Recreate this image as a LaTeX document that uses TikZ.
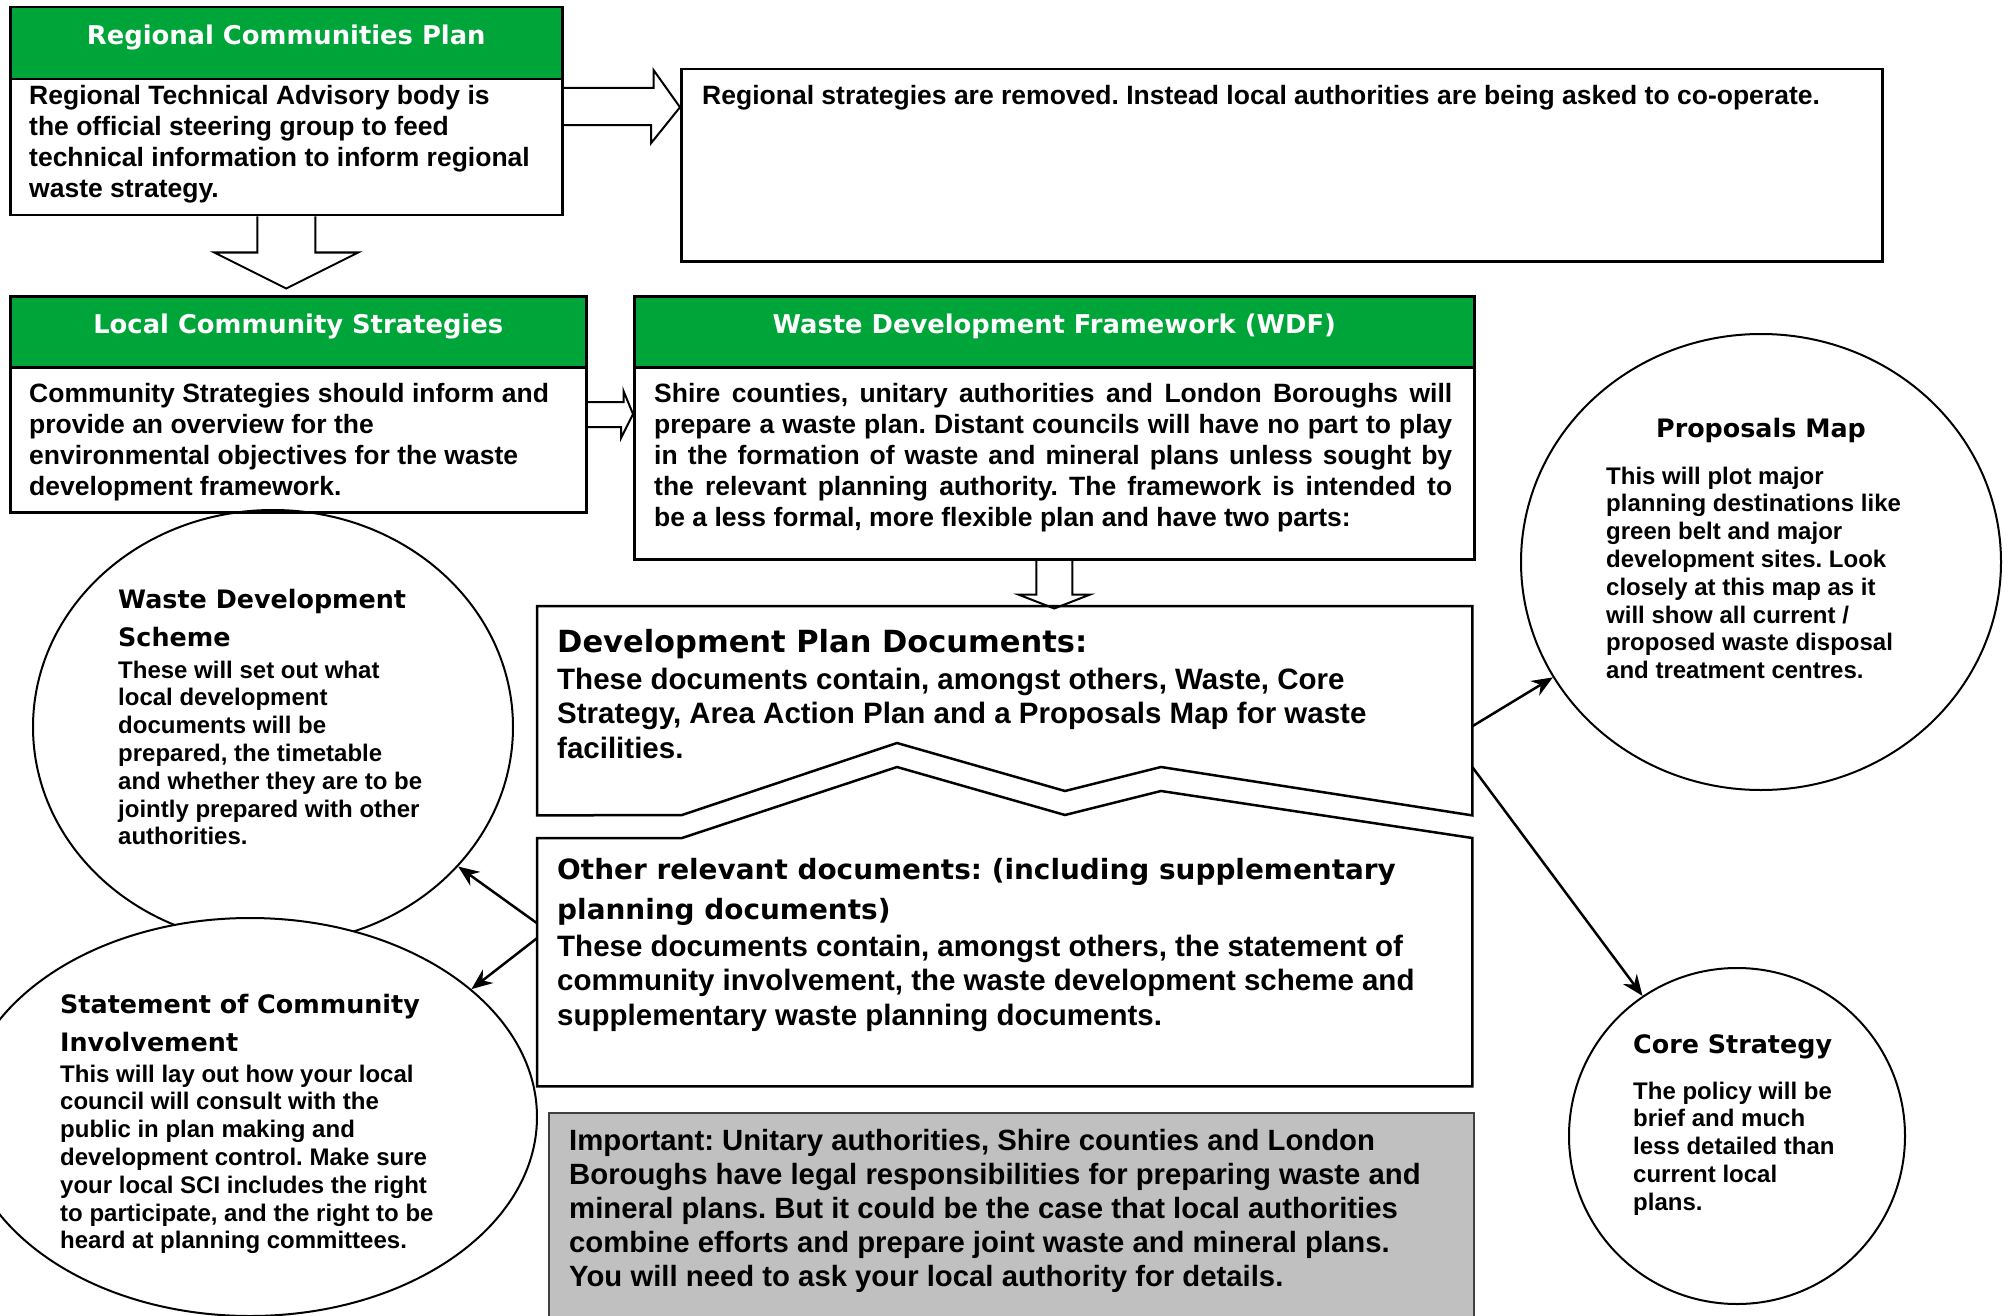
\documentclass[tikz,border=0pt]{standalone}
\usepackage{fontspec}
\setmainfont{Liberation Sans}
\newfontfamily\heavyfont{DejaVu Sans}
\usetikzlibrary{calc,shapes.geometric,arrows.meta}
\frenchspacing

\definecolor{headgreen}{HTML}{00A539}
\definecolor{notegray}{HTML}{C0C0C0}

\tikzset{
    framebox/.style={draw=black, line width=2.5pt, inner sep=0pt, anchor=north west},
    greenbar/.style={framebox, fill=headgreen},
    bartitle/.style={text=white, inner sep=0pt, font=\heavyfont\bfseries\fontsize{25.8}{30}\selectfont},
    boxtext/.style={anchor=base west, inner sep=0pt, align=left, font=\bfseries\fontsize{26.5}{31}\selectfont},
    bigtext/.style={anchor=base west, inner sep=0pt, align=left, font=\bfseries\fontsize{29.5}{34.5}\selectfont},
    bubble/.style={ellipse, draw=black, line width=2pt, fill=white, inner sep=0pt},
    bubbletitle/.style={anchor=base west, inner sep=0pt, align=left, font=\heavyfont\bfseries\fontsize{25.4}{38}\selectfont},
    bubbletext/.style={anchor=base west, inner sep=0pt, align=left, font=\bfseries\fontsize{24}{27.8}\selectfont},
    fatarrow/.style={draw=black, line width=2pt, line join=miter},
    pointer/.style={-{Stealth[length=21pt,width=17pt]}, line width=2.5pt},
}

\begin{document}
\begin{tikzpicture}[x=1pt, y=-1pt]
    \useasboundingbox (0,0) rectangle (2008,1316);

    % bubbles (text nodes sit on the baseline of their last line)
    \node[bubble, minimum width=480pt, minimum height=434pt] (wds) at (273,727) {};
    \node[bubble, minimum width=574pt, minimum height=398pt] (sci) at (250,1117) {};
    \node[bubble, minimum width=480pt, minimum height=456pt] (pm) at (1761,562) {};
    \node[bubble, minimum width=336pt, minimum height=336pt] (cs) at (1737,1136) {};

    \node[bubbletitle] (wdstitle) at ($(wds.center)+(-155,-80.5)$) {Waste Development\\Scheme};
    \node[bubbletext] (wdstext) at ($(wds.center)+(-155,117.8)$) {These will set out what\\local development\\documents will be\\prepared, the timetable\\and whether they are to be\\jointly prepared with other\\authorities.};

    \node[bubbletitle] (scititle) at ($(sci.center)+(-190,-65.5)$) {Statement of Community\\Involvement};
    \node[bubbletext] (scitext) at ($(sci.center)+(-190,131.8)$) {This will lay out how your local\\council will consult with the\\public in plan making and\\development control. Make sure\\your local SCI includes the right\\to participate, and the right to be\\heard at planning committees.};

    \node[bubbletitle, anchor=base] (pmtitle) at ($(pm.center)+(0,-124.5)$) {Proposals Map};
    \node[bubbletext] (pmtext) at ($(pm.center)+(-155,116.6)$) {This will plot major\\planning destinations like\\green belt and major\\development sites. Look\\closely at this map as it\\will show all current /\\proposed waste disposal\\and treatment centres.};

    \node[bubbletitle] (cstitle) at ($(cs.center)+(-104,-82.5)$) {Core Strategy};
    \node[bubbletext] (cstext) at ($(cs.center)+(-104,74.2)$) {The policy will be\\brief and much\\less detailed than\\current local\\plans.};

    % top row
    \node[greenbar, minimum width=552pt, minimum height=72pt] (rcphead) at (9,6) {};
    \node[bartitle] (rcptitle) at ($(rcphead.center)+(0,-6)$) {Regional Communities Plan};
    \node[framebox, minimum width=552pt, minimum height=136pt] (rcp) at (9,78) {};
    \node[boxtext] (rcptext) at ($(rcp.north west)+(20,120)$) {Regional Technical Advisory body is\\the official steering group to feed\\technical information to inform regional\\waste strategy.};

    \node[framebox, minimum width=1201pt, minimum height=192pt] (rs) at (680,68) {};
    \node[boxtext] (rstext) at ($(rs.north west)+(22,37)$) {Regional strategies are removed. Instead local authorities are being asked to co-operate.};

    % second row
    \node[greenbar, minimum width=576pt, minimum height=71pt] (lcshead) at (9,295) {};
    \node[bartitle] (lcstitle) at ($(lcshead.center)+(0,-5.5)$) {Local Community Strategies};
    \node[framebox, minimum width=576pt, minimum height=145pt] (lcs) at (9,366) {};
    \node[boxtext] (lcstext) at ($(lcs.north west)+(20,129)$) {Community Strategies should inform and\\provide an overview for the\\environmental objectives for the waste\\development framework.};

    \node[greenbar, minimum width=840pt, minimum height=71pt] (wdfhead) at (633,295) {};
    \node[bartitle] (wdftitle) at ($(wdfhead.center)+(0,-5.5)$) {Waste Development Framework (WDF)};
    \node[framebox, minimum width=840pt, minimum height=192pt] (wdf) at (633,366) {};
    \node[boxtext] (wdftext) at ($(wdf.north west)+(21,160)$) {\makebox[798pt][s]{Shire counties, unitary authorities and London Boroughs will}\\
        \makebox[798pt][s]{prepare a waste plan. Distant councils will have no part to play}\\
        \makebox[798pt][s]{in the formation of waste and mineral plans unless sought by}\\
        \makebox[798pt][s]{the relevant planning authority. The framework is intended to}\\
        be a less formal, more flexible plan and have two parts:};

    % the two parts
    \node[inner sep=0pt, minimum width=935pt, minimum height=209pt, anchor=north west] (dpd) at (537,606) {};
    \draw[line width=2.5pt, line join=miter] (dpd.north west) -- (dpd.north east) -- (dpd.south east) -- (1161,767) -- (1065,791) -- (897,743) -- (682,815) -- (dpd.south west) -- cycle;
    \node[bubbletitle, font=\heavyfont\bfseries\fontsize{30.5}{36}\selectfont] (dpdtitle) at ($(dpd.north west)+(20,46)$) {Development Plan Documents:};
    \node[bigtext] (dpdtext) at ($(dpd.north west)+(20,152)$) {These documents contain, amongst others, Waste, Core\\Strategy, Area Action Plan and a Proposals Map for waste\\facilities.};

    \node[inner sep=0pt, minimum width=935pt, minimum height=248pt, anchor=north west] (ord) at (537,838) {};
    \draw[line width=2.5pt, line join=miter] (ord.north west) -- (682,838) -- (897,767) -- (1065,815) -- (1161,791) -- (ord.north east) -- (ord.south east) -- (ord.south west) -- cycle;
    \node[bubbletitle, font=\heavyfont\bfseries\fontsize{27.9}{40}\selectfont] (ordtitle) at ($(ord.north west)+(20,81)$) {Other relevant documents: (including supplementary\\planning documents)};
    \node[bigtext] (ordtext) at ($(ord.north west)+(20,187)$) {These documents contain, amongst others, the statement of\\community involvement, the waste development scheme and\\supplementary waste planning documents.};

    \node[framebox, draw=black!75, line width=2pt, fill=notegray, minimum width=925pt, minimum height=230pt] (imp) at (548,1112) {};
    \node[bigtext, font=\bfseries\fontsize{29.3}{34}\selectfont] (imptext) at ($(imp.north west)+(21,174)$) {Important: Unitary authorities, Shire counties and London\\Boroughs have legal responsibilities for preparing waste and\\mineral plans. But it could be the case that local authorities\\combine efforts and prepare joint waste and mineral plans.\\You will need to ask your local authority for details.};

    % block arrows
    \draw[fatarrow] ($(rcp.north east)+(0,10)$) -- ++(90,0) -- ++(0,-18) -- ($(rs.west)+(0,-58)$) -- ++(-29,36) -- ++(0,-18) -- ++(-90,0);
    \draw[fatarrow] ($(rcp.south)+(-29,0)$) -- ++(0,36) -- ++(-43,0) -- ($(rcp.south)+(0,72)$) -- ++(72,-36) -- ++(-43,0) -- ++(0,-36);
    \draw[fatarrow] ($(lcs.north east)+(0,36)$) -- ++(36,0) -- ++(0,-11) -- ($(wdf.north west)+(0,48)$) -- ++(-12,24) -- ++(0,-11) -- ++(-36,0);
    \draw[fatarrow] ($(wdf.south)+(-18,0)$) -- ++(0,34) -- ++(-18,0) -- ($(wdf.south)+(0,48)$) -- ++(36,-14) -- ++(-18,0) -- ++(0,-34);

    % pointers
    \draw[pointer] ([yshift=-15.5pt]dpd.east) -- (pm.209);
    \draw[pointer] ([yshift=-56.5pt]dpd.east) -- (cs.124);
    \draw[pointer] ([yshift=39pt]ord.west) -- (wds.-37);
    \draw[pointer] ([yshift=24pt]ord.west) -- (sci.30);
\end{tikzpicture}
\end{document}
